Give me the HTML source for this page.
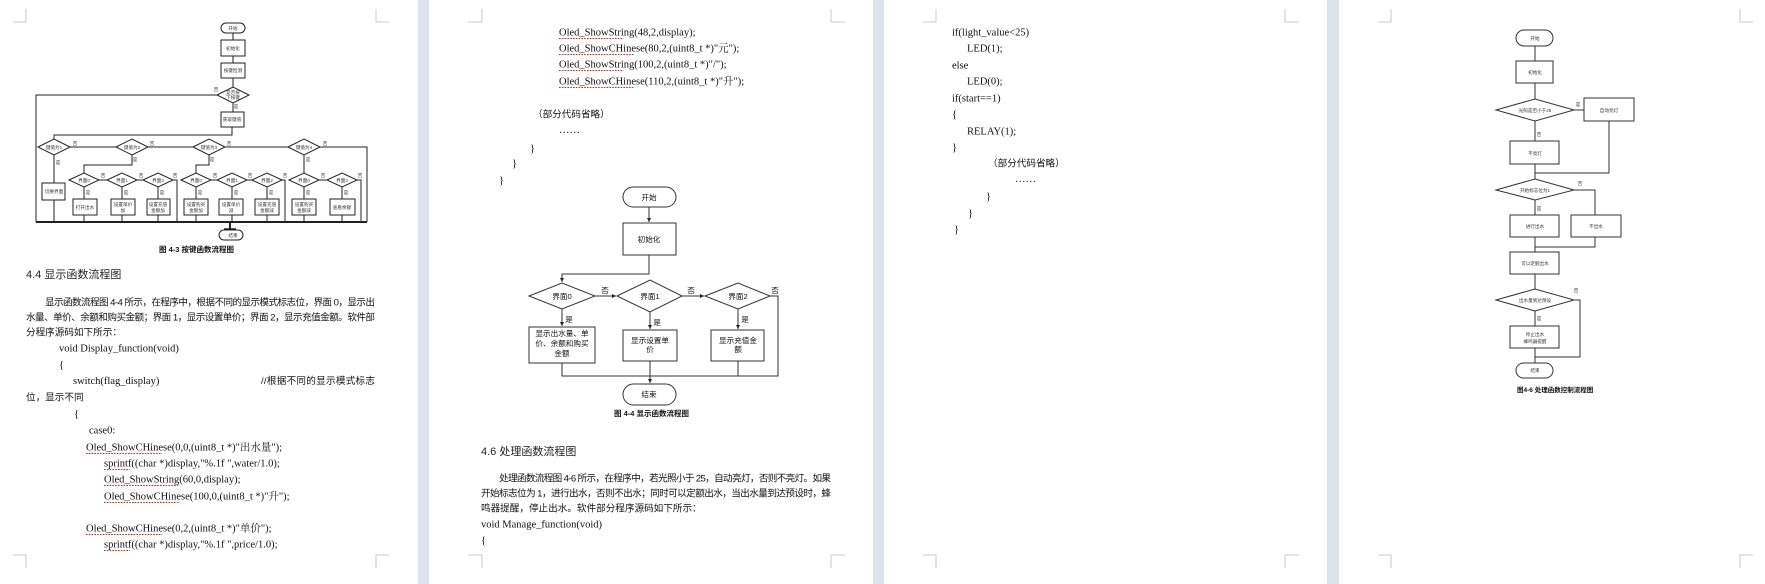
<!DOCTYPE html>
<html><head><meta charset="utf-8"><style>
html,body{margin:0;padding:0;background:#fff;}
svg{display:block;}
.s{font-family:"Liberation Serif","Noto Serif CJK SC",serif;font-size:10.5px;fill:#111;}
.c{font-family:"Liberation Sans","Noto Sans CJK SC",sans-serif;font-size:9.6px;fill:#111;}
.h{font-family:"Liberation Sans","Noto Sans CJK SC",sans-serif;font-size:11px;fill:#222;}
.t{font-family:"Liberation Sans","Noto Sans CJK SC",sans-serif;font-size:4.6px;fill:#333;text-anchor:middle;}
.m{font-family:"Liberation Sans","Noto Sans CJK SC",sans-serif;font-size:7.6px;fill:#111;text-anchor:middle;}
.cap{font-family:"Liberation Sans","Noto Sans CJK SC",sans-serif;font-size:7.5px;font-weight:bold;fill:#111;}
.u{stroke:#e02020;stroke-width:0.9;stroke-dasharray:1.6 1.2;fill:none;}
.k{stroke:#bbb;stroke-width:0.8;fill:none;}
</style></head><body>
<svg width="1765" height="584" viewBox="0 0 1765 584" xmlns="http://www.w3.org/2000/svg">
<defs><marker id="a" markerWidth="6" markerHeight="6" refX="5" refY="3" orient="auto" markerUnits="userSpaceOnUse"><path d="M1,1 L5,3 L1,5 Z" fill="#222"/></marker></defs>
<rect width="1765" height="584" fill="#fff"/>
<!-- gaps -->
<rect x="418" y="0" width="11" height="584" fill="#dde3ea"/>
<rect x="873" y="0" width="11" height="584" fill="#dde3ea"/>
<rect x="1327" y="0" width="12" height="584" fill="#dde3ea"/>
<!-- corner marks -->
<g class="k">
<path d="M13,22 H26 V9"/><path d="M389,22 H376 V9"/><path d="M13,555 H26 V568"/><path d="M389,555 H376 V568"/>
<path d="M468,22 H482 V9"/><path d="M845,22 H831 V9"/><path d="M468,555 H482 V568"/><path d="M845,555 H831 V568"/>
<path d="M923,22 H936 V9"/><path d="M1299,22 H1285 V9"/><path d="M923,555 H936 V568"/><path d="M1299,555 H1285 V568"/>
<path d="M1378,22 H1391 V9"/><path d="M1753,22 H1740 V9"/><path d="M1378,555 H1391 V568"/><path d="M1753,555 H1740 V568"/>
</g>

<!-- ===== PAGE 1 flowchart ===== -->
<g stroke="#222" stroke-width="1" fill="#fff">
<rect x="221" y="23" width="24" height="10" rx="5"/>
<line x1="233" y1="33" x2="233" y2="40"/>
<rect x="221" y="40" width="24" height="16"/>
<line x1="233" y1="56" x2="233" y2="63"/>
<rect x="221" y="63" width="24" height="15"/>
<line x1="233" y1="78" x2="233" y2="87"/>
<polygon points="217,95 233,87 249,95 233,103"/>
<line x1="233" y1="103" x2="233" y2="112"/>
<rect x="221" y="112" width="23" height="15"/>
<polyline fill="none" points="232,127 232,135 54,135 54,139"/>
<polyline fill="none" points="217,95 36,95 36,222"/>
<polygon points="38,147 54,139 70,147 54,155"/>
<polygon points="116,147 132,139 148,147 132,155"/>
<polygon points="193,147 209,139 225,147 209,155"/>
<polygon points="288,147 304,139 320,147 304,155"/>
<line x1="70" y1="147" x2="116" y2="147"/><line x1="148" y1="147" x2="193" y2="147"/><line x1="225" y1="147" x2="288" y2="147"/>
<polyline fill="none" points="320,147 367,147 367,222"/>
<line x1="54" y1="155" x2="54" y2="183"/><rect x="42" y="183" width="23" height="17"/><line x1="54" y1="200" x2="54" y2="222"/>
<polyline fill="none" points="132,155 132,165 84,165 84,173"/>
<polygon points="69,180 84,173 99,180 84,187"/>
<polygon points="107,180 122,173 137,180 122,187"/>
<polygon points="143,180 158,173 173,180 158,187"/>
<line x1="99" y1="180" x2="107" y2="180"/><line x1="137" y1="180" x2="143" y2="180"/>
<polyline fill="none" points="173,180 177,180 177,222"/>
<line x1="84" y1="187" x2="84" y2="199"/><line x1="122" y1="187" x2="122" y2="199"/><line x1="158" y1="187" x2="158" y2="199"/>
<rect x="73" y="199" width="24" height="16"/><rect x="111" y="199" width="24" height="16"/><rect x="147" y="199" width="23" height="16"/>
<line x1="84" y1="215" x2="84" y2="222"/><line x1="122" y1="215" x2="122" y2="222"/><line x1="158" y1="215" x2="158" y2="222"/>
<polyline fill="none" points="209,155 209,165 196,165 196,173"/>
<polygon points="181,180 196,173 211,180 196,187"/>
<polygon points="217,180 232,173 247,180 232,187"/>
<polygon points="252,180 267,173 282,180 267,187"/>
<line x1="211" y1="180" x2="217" y2="180"/><line x1="247" y1="180" x2="252" y2="180"/>
<polyline fill="none" points="282,180 285,180 285,222"/>
<line x1="196" y1="187" x2="196" y2="199"/><line x1="232" y1="187" x2="232" y2="199"/><line x1="267" y1="187" x2="267" y2="199"/>
<rect x="184" y="199" width="24" height="16"/><rect x="219" y="199" width="24" height="16"/><rect x="255" y="199" width="24" height="16"/>
<line x1="196" y1="215" x2="196" y2="222"/><line x1="232" y1="215" x2="232" y2="222"/><line x1="267" y1="215" x2="267" y2="222"/>
<line x1="304" y1="155" x2="304" y2="173"/>
<polygon points="289,180 304,173 319,180 304,187"/>
<polygon points="327,180 342,173 357,180 342,187"/>
<line x1="319" y1="180" x2="327" y2="180"/>
<polyline fill="none" points="357,180 361,180 361,222"/>
<line x1="304" y1="187" x2="304" y2="199"/><line x1="342" y1="187" x2="342" y2="199"/>
<rect x="292" y="199" width="24" height="16"/><rect x="330" y="199" width="25" height="16"/>
<line x1="304" y1="215" x2="304" y2="222"/><line x1="342" y1="215" x2="342" y2="222"/>
<line x1="36" y1="222" x2="367" y2="222" stroke-width="2"/>
<line x1="230" y1="222" x2="230" y2="230" stroke-width="2"/>
<line x1="224" y1="229" x2="236" y2="229" stroke-width="1.5"/>
<rect x="219" y="230" width="24" height="10" rx="5"/>
</g>
<g class="t">
<text x="233" y="30">开始</text><text x="233" y="50">初始化</text><text x="233" y="72">按键检测</text>
<text x="233" y="94">是否按</text><text x="233" y="99">下按键</text><text x="232" y="121">获取键值</text>
<text x="233" y="237">结束</text>
<text x="54" y="149">键值为1</text><text x="132" y="149">键值为2</text><text x="209" y="149">键值为3</text><text x="304" y="149">键值为4</text>
<text x="54" y="193">切换界面</text>
<text x="84" y="182">界面0</text><text x="122" y="182">界面1</text><text x="158" y="182">界面2</text>
<text x="196" y="182">界面0</text><text x="232" y="182">界面1</text><text x="267" y="182">界面2</text>
<text x="304" y="182">界面0</text><text x="342" y="182">界面2</text>
<text x="85" y="209">打开出水</text>
<text x="123" y="206">设置单价</text><text x="123" y="212">加</text>
<text x="158" y="206">设置充值</text><text x="158" y="212">金额加</text>
<text x="196" y="206">设置购买</text><text x="196" y="212">金额加</text>
<text x="231" y="206">设置单价</text><text x="231" y="212">减</text>
<text x="267" y="206">设置充值</text><text x="267" y="212">金额减</text>
<text x="304" y="206">设置购买</text><text x="304" y="212">金额减</text>
<text x="342" y="209">查看余额</text>
<text x="216" y="91">否</text><text x="236" y="108">是</text>
<text x="75" y="145">否</text><text x="152" y="145">否</text><text x="229" y="145">否</text><text x="325" y="145">否</text>
<text x="58" y="164">是</text><text x="135" y="161">是</text><text x="212" y="161">是</text><text x="308" y="161">是</text>
<text x="103" y="177">否</text><text x="141" y="177">否</text><text x="175" y="177">否</text>
<text x="215" y="177">否</text><text x="250" y="177">否</text><text x="285" y="177">否</text>
<text x="323" y="177">否</text><text x="360" y="177">否</text>
<text x="88" y="194">是</text><text x="126" y="194">是</text><text x="162" y="194">是</text>
<text x="200" y="194">是</text><text x="236" y="194">是</text><text x="271" y="194">是</text>
<text x="308" y="194">是</text><text x="346" y="194">是</text>
</g>
<text class="cap" x="159" y="252">图 4-3   按键函数流程图</text>

<!-- PAGE 1 text -->
<text class="h" x="26" y="278">4.4  显示函数流程图</text>
<text class="c" x="45" y="305.5" textLength="330" lengthAdjust="spacing">显示函数流程图 4-4 所示，在程序中，根据不同的显示模式标志位，界面 0，显示出</text>
<text class="c" x="26" y="320.5" textLength="349" lengthAdjust="spacing">水量、单价、余额和购买金额；界面 1，显示设置单价；界面 2，显示充值金额。软件部</text>
<text class="c" x="26" y="335.5">分程序源码如下所示：</text>
<text class="s" x="59" y="351.5">void Display_function(void)</text>
<text class="s" x="59" y="368">{</text>
<text class="s" x="73" y="384">switch(flag_display)</text>
<text class="c" x="261" y="384" textLength="114" lengthAdjust="spacing">//根据不同的显示模式标志</text>
<text class="c" x="26" y="400.5">位，显示不同</text>
<text class="s" x="74" y="417">{</text>
<text class="s" x="89" y="433.5">case0:</text>
<text class="s" x="86" y="450.5">Oled_ShowCHinese(0,0,(uint8_t *)"出水量");</text>
<text class="s" x="104" y="466.5">sprintf((char *)display,"%.1f    ",water/1.0);</text>
<text class="s" x="104" y="482.5">Oled_ShowString(60,0,display);</text>
<text class="s" x="104" y="499.5">Oled_ShowCHinese(100,0,(uint8_t *)"升");</text>
<text class="s" x="86" y="531.5">Oled_ShowCHinese(0,2,(uint8_t *)"单价");</text>
<text class="s" x="104" y="547.5">sprintf((char *)display,"%.1f    ",price/1.0);</text>
<path class="u" d="M86,453.5 H162 M104,469.5 H130 M104,485.5 H178 M104,502.5 H180 M86,534.5 H162 M104,550.5 H130"/>

<!-- ===== PAGE 2 ===== -->
<text class="s" x="559" y="35.5">Oled_ShowString(48,2,display);</text>
<text class="s" x="559" y="51.5">Oled_ShowCHinese(80,2,(uint8_t *)"元");</text>
<text class="s" x="559" y="67.5">Oled_ShowString(100,2,(uint8_t *)"/");</text>
<text class="s" x="559" y="84.5">Oled_ShowCHinese(110,2,(uint8_t *)"升");</text>
<path class="u" d="M559,38.5 H623 M559,54.5 H634 M559,70.5 H623 M559,87.5 H634"/>
<text class="c" x="533" y="117.5">（部分代码省略）</text>
<text class="s" x="559" y="133">……</text>
<text class="s" x="530" y="151.5">}</text>
<text class="s" x="512" y="166.5">}</text>
<text class="s" x="499" y="183.5">}</text>

<g stroke="#333" stroke-width="1" fill="#fff">
<rect x="623" y="187" width="53" height="20" rx="10"/>
<line x1="649" y1="207" x2="649" y2="222" marker-end="url(#a)"/>
<rect x="623" y="223" width="53" height="32"/>
<polyline fill="none" points="649,255 649,274 562,274 562,282" marker-end="url(#a)"/>
<polygon points="529,296 562,283 595,296 562,309"/>
<polygon points="617,296 650,280 682,296 650,312"/>
<polygon points="705,296 738,283 770,296 738,309"/>
<line x1="595" y1="296" x2="616" y2="296" marker-end="url(#a)"/>
<line x1="682" y1="296" x2="704" y2="296" marker-end="url(#a)"/>
<polyline fill="none" points="770,296 778,296 778,376 562,376 562,363"/>
<line x1="562" y1="309" x2="562" y2="326" marker-end="url(#a)"/>
<line x1="650" y1="312" x2="650" y2="329" marker-end="url(#a)"/>
<line x1="738" y1="309" x2="738" y2="329" marker-end="url(#a)"/>
<rect x="529" y="327" width="66" height="36"/>
<rect x="623" y="330" width="54" height="31"/>
<rect x="711" y="330" width="53" height="31"/>
<line x1="738" y1="361" x2="738" y2="376"/>
<line x1="650" y1="361" x2="650" y2="383" marker-end="url(#a)"/>
<rect x="623" y="384" width="53" height="21" rx="10.5"/>
</g>
<g class="m">
<text x="649" y="200">开始</text><text x="649" y="242">初始化</text>
<text x="562" y="299">界面0</text><text x="650" y="299">界面1</text><text x="738" y="299">界面2</text>
<text x="562" y="336">显示出水量、单</text><text x="562" y="346">价、余额和购买</text><text x="562" y="356">金额</text>
<text x="650" y="343">显示设置单</text><text x="650" y="352">价</text>
<text x="738" y="343">显示充值金</text><text x="738" y="352">额</text>
<text x="605" y="293">否</text><text x="691" y="293">否</text><text x="775" y="293">否</text>
<text x="569" y="322">是</text><text x="657" y="325">是</text><text x="745" y="322">是</text>
<text x="649" y="397">结束</text>
</g>
<text class="cap" x="614" y="416">图 4-4    显示函数流程图</text>
<text class="h" x="481" y="455">4.6  处理函数流程图</text>
<text class="c" x="499" y="481.5" textLength="332" lengthAdjust="spacing">处理函数流程图 4-6 所示，在程序中，若光照小于 25，自动亮灯，否则不亮灯。如果</text>
<text class="c" x="481" y="496.5" textLength="350" lengthAdjust="spacing">开始标志位为 1，进行出水，否则不出水；同时可以定额出水，当出水量到达预设时，蜂</text>
<text class="c" x="481" y="511.5">鸣器提醒，停止出水。软件部分程序源码如下所示：</text>
<text class="s" x="481" y="527.5">void Manage_function(void)</text>
<text class="s" x="481" y="543.5">{</text>

<!-- ===== PAGE 3 ===== -->
<text class="s" x="952" y="35.5">if(light_value&lt;25)</text>
<text class="s" x="967" y="51.5">LED(1);</text>
<text class="s" x="952" y="68.5">else</text>
<text class="s" x="967" y="84.5">LED(0);</text>
<text class="s" x="952" y="101.5">if(start==1)</text>
<text class="s" x="952" y="117.5">{</text>
<text class="s" x="967" y="134.5">RELAY(1);</text>
<text class="s" x="952" y="150.5">}</text>
<text class="c" x="988" y="166.5">（部分代码省略）</text>
<text class="s" x="1015" y="182">……</text>
<text class="s" x="986" y="199.5">}</text>
<text class="s" x="968" y="216.5">}</text>
<text class="s" x="954" y="232.5">}</text>

<!-- ===== PAGE 4 flowchart ===== -->
<g stroke="#333" stroke-width="1" fill="#fff">
<rect x="1516" y="30" width="37" height="16" rx="8"/>
<line x1="1535" y1="46" x2="1535" y2="61"/>
<rect x="1516" y="61" width="37" height="22"/>
<line x1="1535" y1="83" x2="1535" y2="99"/>
<polygon points="1496,110 1535,99 1574,110 1535,121"/>
<line x1="1574" y1="110" x2="1584" y2="110"/>
<rect x="1584" y="98" width="50" height="23"/>
<line x1="1535" y1="121" x2="1535" y2="141"/>
<rect x="1510" y="141" width="49" height="23"/>
<line x1="1535" y1="164" x2="1535" y2="179"/>
<polyline fill="none" points="1609,121 1609,173 1535,173"/>
<polygon points="1496,190 1535,179 1574,190 1535,200"/>
<polyline fill="none" points="1574,190 1595,190 1595,215"/>
<line x1="1535" y1="200" x2="1535" y2="215"/>
<rect x="1510" y="215" width="49" height="22"/>
<rect x="1571" y="215" width="50" height="22"/>
<polyline fill="none" points="1595,237 1595,247 1535,247"/>
<line x1="1535" y1="237" x2="1535" y2="252"/>
<rect x="1510" y="252" width="49" height="22"/>
<line x1="1535" y1="274" x2="1535" y2="289"/>
<polygon points="1496,300 1535,289 1574,300 1535,311"/>
<polyline fill="none" points="1574,300 1580,300 1580,357 1535,357"/>
<line x1="1535" y1="311" x2="1535" y2="326"/>
<rect x="1510" y="326" width="49" height="22"/>
<line x1="1535" y1="348" x2="1535" y2="363"/>
<rect x="1516" y="363" width="37" height="15" rx="7.5"/>
</g>
<g class="t">
<text x="1535" y="40">开始</text><text x="1535" y="74">初始化</text>
<text x="1535" y="112">光照是否小于25</text><text x="1609" y="112">自动亮灯</text>
<text x="1535" y="155">不亮灯</text>
<text x="1535" y="192">开始标志位为1</text>
<text x="1535" y="228">进行出水</text><text x="1596" y="228">不出水</text>
<text x="1535" y="265">可以定额出水</text>
<text x="1535" y="302">出水量到达预设</text>
<text x="1535" y="336">停止出水</text><text x="1535" y="343">蜂鸣器提醒</text>
<text x="1535" y="372">结束</text>
<text x="1578" y="106">是</text><text x="1539" y="136">否</text>
<text x="1580" y="185">否</text><text x="1539" y="210">是</text>
<text x="1576" y="292">否</text><text x="1539" y="320">是</text>
</g>
<text class="cap" x="1517" y="392" style="font-size:6.5px">图4-6    处理函数控制流程图</text>
</svg>
</body></html>
